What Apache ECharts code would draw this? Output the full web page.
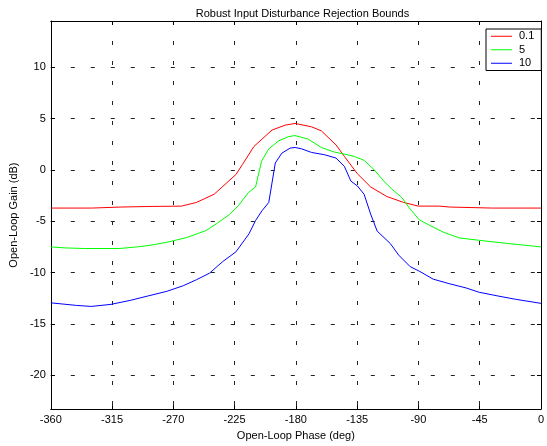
<!DOCTYPE html>
<html>
<head>
<meta charset="utf-8">
<script src="https://cdn.jsdelivr.net/npm/echarts@6/dist/echarts.min.js"></script>
<style>
  html, body { margin: 0; padding: 0; background: #fff; }
  #chart { width: 547px; height: 446px; }
</style>
</head>
<body>
<div id="chart"></div>
<script>
// Robust input disturbance rejection bounds on the Nichols plane
const titleText = 'Robust Input Disturbance Rejection Bounds';
const xName = 'Open-Loop Phase (deg)';
const yName = 'Open-Loop Gain (dB)';
const xTicks = [-360, -315, -270, -225, -180, -135, -90, -45, 0];
const yTicks = [-20, -15, -10, -5, 0, 5, 10];
const seriesNames = ['0.1', '5', '10'];
const seriesColors = ['#ff0000', '#00ff00', '#0000ff'];

// bound for 0.1 rad/s
const phase01 = [-360, -330, -308.6, -285, -264, -253, -240, -224, -219.3, -210.8, -197.5, -187.8,
  -180.6, -168.6, -161.3, -150.5, -144.4, -134.8, -125.1, -113.1, -100.9, -90, -74.4, -67.2, -35.7, 0];
const gain01 = [-3.72, -3.72, -3.62, -3.56, -3.53, -3.17, -2.37, -0.45, 0.51, 2.28, 3.88, 4.36,
  4.52, 4.2, 3.8, 2.43, 1.32, -0.38, -1.66, -2.6, -3.17, -3.53, -3.53, -3.62, -3.72, -3.72];

// bound for 5 rad/s
const phase5 = [-360, -349.6, -335.2, -309.8, -296.5, -286.8, -274.8, -260.3, -245.8, -238.5, -228.9,
  -221.7, -214.9, -209.6, -205.2, -199.9, -192.7, -185.4, -180.6, -171.0, -161.3, -151.6, -144.4,
  -137.1, -129.9, -122.6, -115.4, -109.4, -102.2, -96.1, -89.3, -81.6, -71.9, -59.9, -45.4, -23.7, 0];
const gain5 = [-7.5, -7.6, -7.66, -7.66, -7.5, -7.34, -7.05, -6.6, -5.9, -5.26, -4.36,
  -3.4, -2.21, -1.66, 0.84, 2.05, 2.82, 3.24, 3.34, 3.0, 2.18, 1.73, 1.54,
  1.31, 0.93, 0.03, -1.09, -1.89, -2.69, -3.81, -4.87, -5.41, -6.06, -6.63, -6.86, -7.18, -7.5];

// bound for 10 rad/s
const phase10 = [-360, -341.2, -330.3, -315.8, -301.3, -289.2, -274.8, -262.7, -253.0, -243.4, -233.8,
  -224.0, -214.4, -209.6, -204.8, -199.9, -195.1, -190.3, -184.2, -180.6, -175.8, -168.6, -158.8,
  -150.5, -144.4, -139.6, -134.8, -129.9, -125.1, -120.3, -110.6, -104.5, -96.1, -88.9, -79.2,
  -67.2, -55.0, -45.4, -30.9, -18.8, 0];
const gain10 = [-12.95, -13.2, -13.3, -13.1, -12.7, -12.3, -11.83, -11.28, -10.7, -10.06, -8.94,
  -7.98, -6.22, -4.93, -3.97, -3.17, 0.67, 1.63, 2.12, 2.18, 2.05, 1.7, 1.47,
  1.15, 0.35, -1.09, -1.57, -2.37, -4.3, -5.96, -7.18, -8.3, -9.42, -9.9, -10.64,
  -11.09, -11.5, -11.92, -12.3, -12.6, -13.0];

const xMin = -360, xMax = 0, yMin = -23.3, yMax = 14.5;

const pairs = (xs, ys) => xs.map((x, i) => [x, ys[i]]);
const seriesData = [pairs(phase01, gain01), pairs(phase5, gain5), pairs(phase10, gain10)];

const font = '"Liberation Sans", Arial, Helvetica, sans-serif';
const gridDash = { color: '#222', width: 1, type: [4, 16] };
const frameLine = { show: true, onZero: false, lineStyle: { color: '#000', width: 1 } };
const innerTick = { show: true, inside: true, length: 4, lineStyle: { color: '#000' } };

const chart = echarts.init(document.getElementById('chart'), null, { renderer: 'canvas' });
chart.setOption({
  animation: false,
  backgroundColor: '#fff',
  title: {
    text: titleText,
    left: 297.5, textAlign: 'center', top: 3,
    textStyle: { fontFamily: font, fontSize: 11, fontWeight: 'normal', color: '#000' }
  },
  legend: {
    data: seriesNames,
    orient: 'vertical',
    left: 486, top: 29,
    padding: [1, 7, 1, 5],
    icon: 'rect',
    itemWidth: 21, itemHeight: 1, itemGap: 1,
    backgroundColor: '#fff', borderColor: '#000', borderWidth: 1,
    textStyle: { fontFamily: font, fontSize: 11, color: '#000', lineHeight: 12.5, padding: [0, 0, 0, 2] }
  },
  grid: { left: 49, top: 21, width: 497, height: 393, containLabel: false },
  xAxis: [{
    type: 'value', min: xMin, max: xMax, interval: 45, position: 'bottom',
    name: xName, nameLocation: 'middle', nameGap: 18,
    nameTextStyle: { fontFamily: font, fontSize: 11, color: '#000' },
    axisLine: frameLine,
    axisTick: innerTick,
    axisLabel: { fontFamily: font, fontSize: 11, color: '#000', margin: 5,
      formatter: v => (xTicks.includes(v) ? String(v) : '') },
    splitLine: { show: true, lineStyle: gridDash }
  }, {
    type: 'value', min: xMin, max: xMax, interval: 45, position: 'top',
    axisLine: frameLine,
    axisTick: innerTick,
    axisLabel: { show: false }, splitLine: { show: false }
  }],
  yAxis: [{
    type: 'value', min: yMin, max: yMax, splitNumber: 7, position: 'left',
    name: yName, nameLocation: 'middle', nameGap: 27, nameRotate: 90,
    nameTextStyle: { fontFamily: font, fontSize: 11, color: '#000' },
    axisLine: frameLine,
    axisTick: innerTick,
    axisLabel: { fontFamily: font, fontSize: 11, color: '#000', margin: 5,
      showMinLabel: false, showMaxLabel: false,
      formatter: v => (yTicks.includes(v) ? String(v) : '') },
    splitLine: { show: true, lineStyle: gridDash }
  }, {
    type: 'value', min: yMin, max: yMax, splitNumber: 7, position: 'right',
    axisLine: frameLine,
    axisTick: innerTick,
    axisLabel: { show: false }, splitLine: { show: false }
  }],
  series: seriesNames.map((name, i) => ({
    name,
    type: 'line',
    xAxisIndex: 0, yAxisIndex: 0,
    data: seriesData[i],
    showSymbol: false, symbol: 'none',
    color: seriesColors[i],
    lineStyle: { color: seriesColors[i], width: 1 },
    emphasis: { disabled: true },
    z: 3
  }))
});
</script>
</body>
</html>
